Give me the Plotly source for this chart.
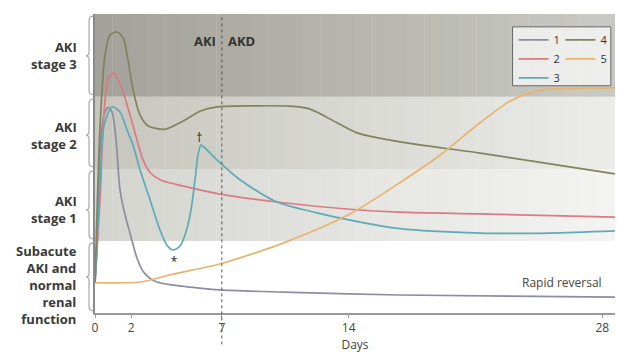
import plotly.graph_objects as go

# ---------------- data ----------------
days_1 = [0, 0.11, 0.28, 0.5, 0.72, 0.94, 1.16, 1.38, 1.66, 1.93, 2.32, 2.65, 3.04, 3.42, 4.2, 5.24, 6.9, 10.38, 16.83, 28.7]
sev_1 = [0.42, 0.875, 2.26, 2.75, 2.85, 2.79, 2.4, 1.71, 1.36, 1.11, 0.76, 0.58, 0.48, 0.43, 0.39, 0.36, 0.32, 0.29, 0.25, 0.22]

days_2 = [0, 0.28, 0.5, 0.72, 0.99, 1.27, 1.6, 1.93, 2.32, 2.65, 3.04, 3.59, 5.24, 6.9, 10.38, 14.07, 16.83, 21.25, 28.7]
sev_2 = [0.42, 1.57, 2.8, 3.24, 3.33, 3.24, 3.03, 2.75, 2.4, 2.125, 1.95, 1.85, 1.74, 1.65, 1.53, 1.44, 1.40, 1.375, 1.33]

days_3 = [0, 0.22, 0.5, 0.94, 1.38, 1.77, 2.1, 2.48, 3.04, 3.59, 3.97, 4.3, 4.69, 5.02, 5.3, 5.52, 5.68, 5.85, 6.07, 6.73, 8.0, 10.04, 12.25, 14.07, 16.83, 21.25, 25.11, 28.7]
sev_3 = [0.42, 1.5, 2.6, 2.86, 2.79, 2.54, 2.33, 1.99, 1.57, 1.15, 0.94, 0.875, 0.93, 1.125, 1.43, 1.85, 2.19, 2.33, 2.29, 2.125, 1.85, 1.54, 1.39, 1.29, 1.17, 1.11, 1.11, 1.14]

days_4 = [0, 0.28, 0.55, 0.83, 1.21, 1.55, 1.82, 2.1, 2.48, 2.92, 3.86, 4.97, 5.79, 6.73, 8.55, 10.76, 11.87, 13.36, 14.46, 16.83, 21.25, 28.7]
sev_4 = [0.42, 2.6, 3.58, 3.86, 3.9, 3.82, 3.51, 3.1, 2.75, 2.6, 2.55, 2.68, 2.8, 2.86, 2.875, 2.87, 2.83, 2.64, 2.5, 2.375, 2.22, 1.93]

days_5 = [0, 2.48, 4.3, 6.73, 8.55, 10.38, 12.8, 14.46, 16.83, 19.04, 21.25, 22.9, 24.17, 25.39, 28.7]
sev_5 = [0.42, 0.43, 0.54, 0.67, 0.81, 0.97, 1.22, 1.43, 1.81, 2.19, 2.64, 2.94, 3.07, 3.11, 3.125]

series_names = ["1", "2", "3", "4", "5"]
series_colors = ["#8c8ca4", "#dc7a84", "#5eaab8", "#82825c", "#e6b46e"]

tick_days = [0, 2, 7, 14, 28]
tick_labels = ["0", "2", "7", "14", "28"]

band_edges = [0, 1, 2, 3, 4.15]
band_labels = ["Subacute<br>AKI and<br>normal<br>renal<br>function", "AKI<br>stage 1", "AKI<br>stage 2", "AKI<br>stage 3"]
band_label_pos = [0.39, 1.43, 2.47, 3.57]
band_left_colors = [(255, 255, 255), (212, 212, 207), (198, 198, 190), (162, 162, 154)]
band_right_colors = [(255, 255, 255), (244, 244, 242), (236, 236, 233), (202, 202, 196)]

note_days = [4.36, 5.76]
note_sev = [0.70, 2.42]
note_text = ["*", "†"]

x_max = 28.7
y_max = 4.15

# ---------------- figure ----------------
fig = go.Figure()

shapes = []
# gradient bands
n_strips = 30
for b in range(4):
    lc, rc = band_left_colors[b], band_right_colors[b]
    if lc == rc == (255, 255, 255):
        continue
    for i in range(n_strips):
        t = (i + 0.5) / n_strips
        c = tuple(int(round(lc[k] + (rc[k] - lc[k]) * t)) for k in range(3))
        shapes.append(dict(type="rect", xref="x", yref="y",
                           x0=x_max * i / n_strips, x1=x_max * (i + 1) / n_strips + 0.02,
                           y0=band_edges[b], y1=band_edges[b + 1],
                           fillcolor="rgb(%d,%d,%d)" % c, line=dict(width=0), layer="below"))

# braces on the left
xe, xb, xt = -0.0035, -0.0115, -0.0175
for b in range(4):
    y0 = band_edges[b] + 0.03
    y1 = band_edges[b + 1] - 0.03
    ym = band_label_pos[b] if b > 0 else (y0 + y1) / 2
    e = 0.06
    path = (f"M {xe},{y0} Q {xb},{y0} {xb},{y0+e} L {xb},{ym-e} Q {xb},{ym} {xt},{ym} "
            f"Q {xb},{ym} {xb},{ym+e} L {xb},{y1-e} Q {xb},{y1} {xe},{y1}")
    shapes.append(dict(type="path", xref="paper", yref="y", path=path,
                       line=dict(color="#a8a8a8", width=1.2)))

# AKI / AKD divider
shapes.append(dict(type="line", xref="x", yref="paper", x0=7, x1=7, y0=-0.105, y1=1,
                   line=dict(color="#555555", width=1, dash="dot")))

# legend box
shapes.append(dict(type="rect", xref="paper", yref="paper",
                   x0=0.803, x1=0.992, y0=0.76, y1=0.957,
                   fillcolor="rgba(250,250,250,0.75)", line=dict(color="#666666", width=1)))

all_days = [days_1, days_2, days_3, days_4, days_5]
all_sev = [sev_1, sev_2, sev_3, sev_4, sev_5]
for i in range(5):
    fig.add_trace(go.Scatter(
        x=all_days[i], y=all_sev[i], mode="lines", name=series_names[i],
        line=dict(color=series_colors[i], width=1.7, shape="spline", smoothing=0.75),
        legend="legend" if i < 3 else "legend2",
        hoverinfo="skip"))

fig.add_trace(go.Scatter(x=note_days, y=note_sev, mode="text", text=note_text,
                         textfont=dict(size=12, color="#222222", family="Open Sans"),
                         showlegend=False, hoverinfo="skip"))

annotations = []
for b in range(4):
    annotations.append(dict(xref="paper", yref="y", x=-0.031, y=band_label_pos[b],
                            xanchor="right", yanchor="middle", align="right",
                            text="<b>%s</b>" % band_labels[b], showarrow=False,
                            font=dict(size=13, color="#3a3a3a", family="Open Sans")))
annotations.append(dict(xref="x", yref="y", x=7, y=3.77, xanchor="right", xshift=-4,
                        text="<b>AKI</b>", showarrow=False,
                        font=dict(size=13, color="#333333", family="Open Sans")))
annotations.append(dict(xref="x", yref="y", x=7, y=3.77, xanchor="left", xshift=4,
                        text="<b>AKD</b>", showarrow=False,
                        font=dict(size=13, color="#333333", family="Open Sans")))
annotations.append(dict(xref="x", yref="y", x=28.1, y=0.42, xanchor="right", yanchor="middle",
                        text="Rapid reversal", showarrow=False,
                        font=dict(size=12, color="#444444", family="Open Sans")))

legend_style = dict(orientation="v", bgcolor="rgba(0,0,0,0)", borderwidth=0,
                    font=dict(size=11, color="#333333", family="Open Sans"),
                    itemwidth=30, tracegroupgap=0, yanchor="top", xanchor="left")

fig.update_layout(
    width=617, height=354,
    margin=dict(l=95, r=2, t=14, b=41),
    paper_bgcolor="white", plot_bgcolor="white",
    shapes=shapes, annotations=annotations,
    showlegend=True,
    legend=dict(x=0.805, y=0.962, **legend_style),
    legend2=dict(x=0.895, y=0.962, **legend_style),
    xaxis=dict(range=[0, x_max], tickmode="array", tickvals=tick_days, ticktext=tick_labels,
               showline=True, linecolor="#9a9a9a", linewidth=2, ticks="outside", ticklen=3,
               tickcolor="#999999", showgrid=False, zeroline=False,
               tickfont=dict(size=12, color="#444444", family="Open Sans"),
               title=dict(text="Days", standoff=0, font=dict(size=12, color="#444444", family="Open Sans"))),
    yaxis=dict(range=[0, y_max], showline=True, linecolor="#8a8a8a", linewidth=1.5,
               showticklabels=False, ticks="", showgrid=False, zeroline=False),
)

fig.write_html("out.html")
